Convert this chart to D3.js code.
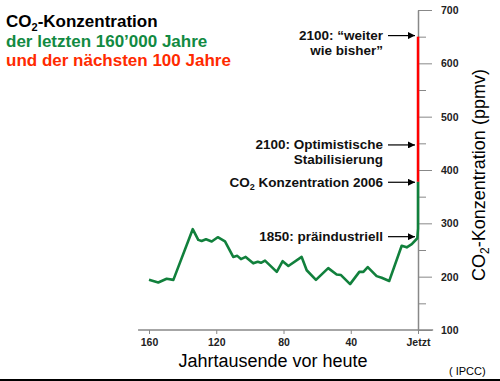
<!DOCTYPE html>
<html>
<head>
<meta charset="utf-8">
<script src="https://cdn.jsdelivr.net/npm/d3@7"></script>
<style>
  body { margin: 0; background: #fff; }
  svg { display: block; font-family: "Liberation Sans", Arial, sans-serif; }
  .tick text { font-weight: bold; font-size: 10.5px; fill: #222; }
</style>
</head>
<body>
<div id="chart"></div>
<script>
// ice core record: thousand years before present vs CO2 (ppmv)
var kyrAgo = [160, 154.5, 149.5, 145.5, 134, 130.7, 128.7, 126.1, 122.7, 119.1, 114.8,
  109.9, 107.5, 105.3, 102.5, 98, 95.3, 93.4, 91, 84, 80.5, 77.1, 69.2, 66.2, 60.7,
  53.4, 48.4, 45.8, 40.4, 34.9, 32.5, 29.9, 24.6, 21.6, 17.1, 9.7, 6.7, 3.7, 0.4];
var ppm = [194, 189, 196, 194, 289, 269, 267, 270, 266, 274, 266,
  237, 239, 233, 237, 225, 228, 226, 230, 209, 229, 220, 237, 212, 194,
  216, 204, 203, 186, 209, 209, 218, 201, 198, 192, 258, 255, 261, 272];

// industrial rise up to 2006 and "business as usual" to 2100
var recentKyr = [0.4, 0, 0];
var recentPpm = [272, 290, 378];
var futureKyr = [0, 0];
var futurePpm = [378, 650];

var xTicks = [160, 120, 80, 40, 0];
var yTicks = [100, 200, 300, 400, 500, 600, 700];
var yMinorTicks = [150, 250, 350, 450, 550, 650];

var notes = [
  { ppm: 652, lines: ['2100: \u201cweiter', 'wie bisher\u201d'] },
  { ppm: 447, lines: ['2100: Optimistische', 'Stabilisierung'] },
  { ppm: 377, lines: ['CO|2| Konzentration 2006'] },
  { ppm: 275, lines: ['1850: pr\u00e4industriell'] }
];

var width = 500, height = 381;

var x = d3.scaleLinear().domain([160, 0]).range([149, 418]);
var y = d3.scaleLinear().domain([100, 700]).range([330, 10]);

var svg = d3.select('#chart').append('svg')
  .attr('width', width)
  .attr('height', height);

// arrow head
svg.append('defs').append('marker')
  .attr('id', 'arr')
  .attr('viewBox', '0 0 10 10')
  .attr('refX', 10).attr('refY', 5)
  .attr('markerWidth', 9).attr('markerHeight', 7)
  .attr('markerUnits', 'userSpaceOnUse')
  .attr('orient', 'auto')
  .append('path').attr('d', 'M0,0 L10,5 L0,10 z').attr('fill', '#000');

// title
var title = svg.append('text').attr('x', 6).attr('y', 27)
  .attr('font-size', 17).attr('font-weight', 'bold').attr('fill', '#000');
title.append('tspan').text('CO');
title.append('tspan').text('2').attr('font-size', 11).attr('dy', 4);
title.append('tspan').text('-Konzentration').attr('dy', -4);

svg.append('text').attr('x', 6).attr('y', 46.5)
  .attr('font-size', 17).attr('font-weight', 'bold').attr('fill', '#128a42')
  .text('der letzten 160\u2019000 Jahre');
svg.append('text').attr('x', 6).attr('y', 66)
  .attr('font-size', 17).attr('font-weight', 'bold').attr('fill', '#ff2a00')
  .text('und der n\u00e4chsten 100 Jahre');

// x axis
svg.append('line')
  .attr('x1', x(166.5)).attr('x2', x(-9))
  .attr('y1', y(100)).attr('y2', y(100))
  .attr('stroke', '#888').attr('stroke-width', 1.5);

var xAxis = svg.append('g')
  .attr('transform', 'translate(0,' + y(100) + ')')
  .call(d3.axisBottom(x).tickValues(xTicks).tickSize(4).tickPadding(5)
    .tickFormat(function(d) { return d === 0 ? 'Jetzt' : d; }));
xAxis.select('.domain').remove();
xAxis.selectAll('.tick line').attr('stroke', '#888');

// y axis on the right, minor ticks first
var yMinor = svg.append('g')
  .attr('transform', 'translate(' + x(0) + ',0)')
  .call(d3.axisRight(y).tickValues(yMinorTicks).tickSize(8).tickFormat(''));
yMinor.select('.domain').remove();
yMinor.selectAll('.tick line').attr('stroke', '#888');

var yAxis = svg.append('g')
  .attr('transform', 'translate(' + x(0) + ',0)')
  .call(d3.axisRight(y).tickValues(yTicks).tickSize(14).tickSizeOuter(0).tickPadding(9));
yAxis.select('.domain').attr('stroke', '#888').attr('stroke-width', 1.5);
yAxis.selectAll('.tick line').attr('stroke', '#888');

// axis titles
var yTitle = svg.append('text')
  .attr('transform', 'translate(485,175) rotate(-90)')
  .attr('text-anchor', 'middle').attr('font-size', 18).attr('fill', '#000');
yTitle.append('tspan').text('CO');
yTitle.append('tspan').text('2').attr('font-size', 12).attr('dy', 4);
yTitle.append('tspan').text('-Konzentration (ppmv)').attr('dy', -4);

svg.append('text')
  .attr('x', 273).attr('y', 367)
  .attr('text-anchor', 'middle').attr('font-size', 18).attr('fill', '#000')
  .text('Jahrtausende vor heute');

svg.append('text')
  .attr('x', 449).attr('y', 375)
  .attr('font-size', 11).attr('fill', '#000')
  .text('( IPCC)');

// lines
var line = d3.line()
  .x(function(d) { return x(d[0]); })
  .y(function(d) { return y(d[1]); });

var past = d3.zip(kyrAgo, ppm).concat(d3.zip(recentKyr, recentPpm).slice(1));
svg.append('path')
  .attr('d', line(past))
  .attr('fill', 'none')
  .attr('stroke', '#11803c')
  .attr('stroke-width', 2.6)
  .attr('stroke-linejoin', 'round');

svg.append('path')
  .attr('d', line(d3.zip(futureKyr, futurePpm)))
  .attr('fill', 'none')
  .attr('stroke', '#ff0000')
  .attr('stroke-width', 2.5);

// annotations
var ann = svg.append('g').selectAll('g').data(notes).enter().append('g');

ann.append('line')
  .attr('x1', x(0) - 30).attr('x2', x(0) - 3)
  .attr('y1', function(d) { return y(d.ppm); })
  .attr('y2', function(d) { return y(d.ppm); })
  .attr('stroke', '#000').attr('stroke-width', 1.2)
  .attr('marker-end', 'url(#arr)');

ann.each(function(d) {
  var g = d3.select(this);
  d.lines.forEach(function(txt, i) {
    var t = g.append('text')
      .attr('x', x(0) - 35)
      .attr('y', y(d.ppm) + 4.5 + i * 15)
      .attr('text-anchor', 'end')
      .attr('font-size', 13.5).attr('font-weight', 'bold').attr('fill', '#111');
    var parts = txt.split('|');
    if (parts.length === 3) {
      t.append('tspan').text(parts[0]);
      t.append('tspan').text(parts[1]).attr('font-size', 9).attr('dy', 3);
      t.append('tspan').text(parts[2]).attr('dy', -3);
    } else {
      t.text(txt);
    }
  });
});

// frame line at the bottom
svg.append('line')
  .attr('x1', 0).attr('x2', width)
  .attr('y1', 380).attr('y2', 380)
  .attr('stroke', '#000').attr('stroke-width', 2);
</script>
</body>
</html>
